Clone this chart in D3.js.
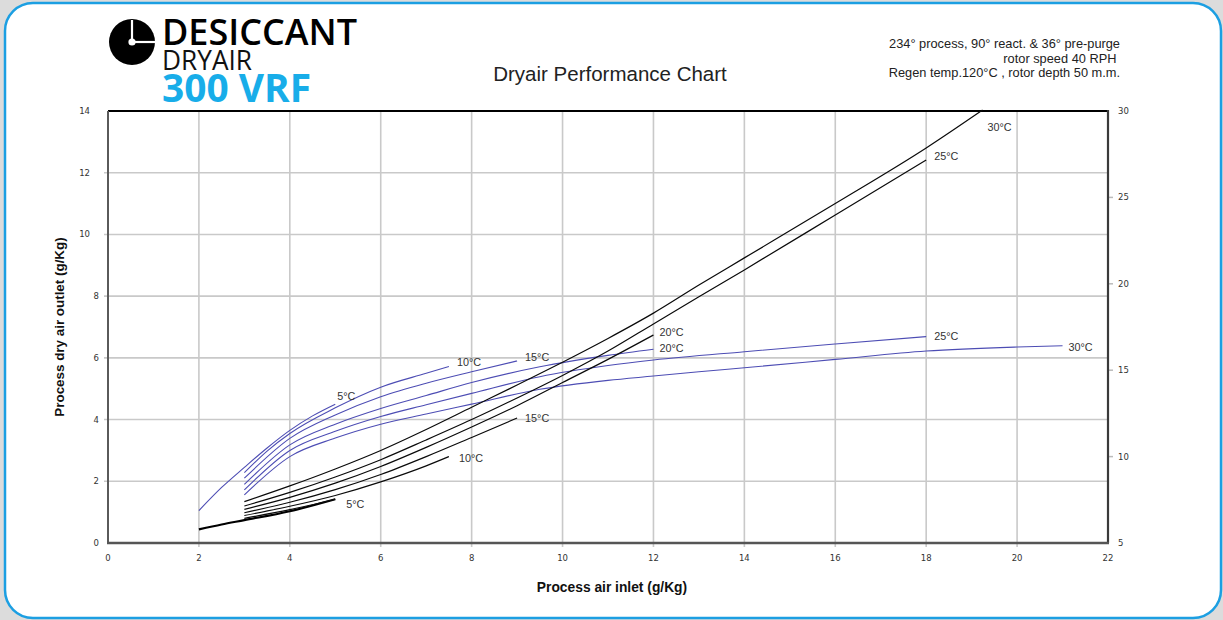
<!DOCTYPE html>
<html>
<head>
<meta charset="utf-8">
<script src="https://cdn.jsdelivr.net/npm/d3@7"></script>
<style>
  html, body { margin: 0; padding: 0; background: #dcdcdc; }
  svg { display: block; }
</style>
</head>
<body>
<svg id="chart" width="1223" height="620"></svg>
<script>
// ---------- DATA ----------
const xTicks = [0, 2, 4, 6, 8, 10, 12, 14, 16, 18, 20, 22];
const yTicks = [0, 2, 4, 6, 8, 10, 12, 14];
const yRightTicks = [5, 10, 15, 20, 25, 30];
const tempNames = ["5°C", "10°C", "15°C", "20°C", "25°C", "30°C"];

// blue family
const blue5  = [[2,1.05],[2.5,1.8],[3,2.45],[3.5,3.08],[4,3.65],[4.5,4.12],[5,4.5]];
const blue10 = [[3,2.28],[3.5,2.98],[4,3.55],[5,4.38],[6,5.05],[7,5.5],[7.5,5.72]];
const blue15 = [[3,2.1],[4,3.39],[5,4.15],[6,4.74],[7,5.18],[8,5.55],[9,5.9]];
const blue20 = [[3,1.9],[4,3.18],[5,3.85],[6,4.36],[7,4.78],[8,5.2],[9.5,5.71],[11,6.08],[12,6.28]];
const blue25 = [[3,1.72],[4,3.0],[5,3.62],[6,4.1],[7,4.48],[8,4.85],[9.5,5.39],[11,5.75],[12,5.93],[14,6.2],[16,6.45],[18,6.69]];
const blue30 = [[3,1.56],[4,2.8],[5,3.4],[6,3.85],[7,4.18],[8,4.5],[9.5,4.98],[11,5.27],[12,5.41],[13,5.55],[14,5.68],[16,5.95],[18,6.22],[20,6.35],[21,6.39]];

// black family
const black5a = [[2,0.44],[2.5,0.6],[3,0.74],[4,1.03],[5,1.42]];
const black5b = [[3,0.8],[4,1.08],[5,1.42]];
const black10 = [[3,0.89],[4,1.19],[5,1.54],[6,1.98],[7,2.5],[7.5,2.8]];
const black15 = [[3,0.98],[4,1.32],[5,1.73],[6,2.22],[7,2.8],[8,3.42],[9,4.05]];
const black20 = [[3,1.09],[4,1.48],[5,1.94],[6,2.48],[7,3.1],[8,3.76],[9,4.45],[10,5.2],[11,5.95],[12,6.74]];
const black25 = [[3,1.2],[4,1.64],[5,2.14],[6,2.7],[7,3.34],[8,4.0],[9,4.7],[10,5.43],[11,6.22],[12,7.1],[13,7.98],[14,8.85],[16,10.63],[18,12.41]];
const black30 = [[3,1.34],[4,1.85],[5,2.4],[6,3.0],[7,3.68],[8,4.4],[9,5.12],[10,5.86],[11,6.63],[12,7.45],[13,8.36],[14,9.24],[16,11.0],[18,12.8],[19.24,14.03]];

const blueSeries = [blue5, blue10, blue15, blue20, blue25, blue30];
const blackSeries = [black5b, black10, black15, black20, black25, black30];

const noteLines = ["234° process, 90° react. & 36° pre-purge", "rotor speed 40 RPH ", "Regen temp.120°C , rotor depth 50 m.m."];

// ---------- DRAWING ----------
const svg = d3.select("#chart");

// frame
svg.append("rect").attr("x", 5).attr("y", 3).attr("width", 1216).attr("height", 615)
  .attr("rx", 28).attr("ry", 28).attr("fill", "#fff")
  .attr("stroke", "#1c9fe2").attr("stroke-width", 2.5);

const x = d3.scaleLinear().domain([0, 22]).range([108, 1108]);
const y = d3.scaleLinear().domain([0, 14]).range([543, 111]);
const yR = d3.scaleLinear().domain([5, 30]).range([543, 111]);

const font = "'Liberation Sans', Arial, Helvetica, sans-serif";
const tickFont = "'DejaVu Sans', Verdana, sans-serif";

// grid
const grid = svg.append("g");
grid.selectAll("line.v").data(xTicks.slice(1, -1)).join("line")
  .attr("x1", d => x(d)).attr("x2", d => x(d))
  .attr("y1", y(14)).attr("y2", y(0) + 4)
  .attr("stroke", "#c9c9c9").attr("stroke-width", 1.6);
grid.selectAll("line.h").data(yTicks.slice(1, -1)).join("line")
  .attr("y1", d => y(d)).attr("y2", d => y(d))
  .attr("x1", x(0) - 4).attr("x2", x(22))
  .attr("stroke", "#c9c9c9").attr("stroke-width", 1.6);

// right ticks
svg.append("g").selectAll("line").data(yRightTicks.slice(1, -1)).join("line")
  .attr("x1", x(22)).attr("x2", x(22) + 5)
  .attr("y1", d => yR(d)).attr("y2", d => yR(d))
  .attr("stroke", "#bbb").attr("stroke-width", 1.5);

// axis frame lines
svg.append("line").attr("x1", x(0)).attr("x2", x(22)).attr("y1", y(14)).attr("y2", y(14))
  .attr("stroke", "#000").attr("stroke-width", 2.2);
svg.append("line").attr("x1", x(0)).attr("x2", x(0)).attr("y1", y(14)).attr("y2", y(0))
  .attr("stroke", "#5a5a5a").attr("stroke-width", 2);
svg.append("line").attr("x1", x(22)).attr("x2", x(22)).attr("y1", y(14) - 1).attr("y2", y(0))
  .attr("stroke", "#3a3a3a").attr("stroke-width", 2.2);
svg.append("line").attr("x1", x(0) - 1).attr("x2", x(22) + 1).attr("y1", y(0)).attr("y2", y(0))
  .attr("stroke", "#555").attr("stroke-width", 2.6);

// tick labels
svg.append("g").selectAll("text").data(yTicks).join("text")
  .attr("x", d => String(d).length > 1 ? 90 : 99)
  .attr("y", d => y(d) + 3)
  .attr("text-anchor", "end")
  .attr("font-family", tickFont).attr("font-size", 8.5).attr("fill", "#333")
  .text(d => d);
svg.append("g").selectAll("text").data(xTicks).join("text")
  .attr("x", d => x(d)).attr("y", 561)
  .attr("text-anchor", "middle")
  .attr("font-family", tickFont).attr("font-size", 8.5).attr("fill", "#333")
  .text(d => d);
svg.append("g").selectAll("text").data(yRightTicks).join("text")
  .attr("x", 1118).attr("y", d => yR(d) + 3)
  .attr("text-anchor", "start")
  .attr("font-family", tickFont).attr("font-size", 8.5).attr("fill", "#333")
  .text(d => d);

// axis titles
svg.append("text").attr("x", 612).attr("y", 592).attr("text-anchor", "middle")
  .attr("font-family", font).attr("font-weight", "bold").attr("font-size", 13.8).attr("fill", "#111")
  .text("Process air inlet (g/Kg)");
svg.append("text").attr("transform", "translate(64,327) rotate(-90)").attr("text-anchor", "middle")
  .attr("font-family", font).attr("font-weight", "bold").attr("font-size", 13.4).attr("fill", "#111")
  .text("Process dry air outlet (g/Kg)");

// curves
const line = d3.line().x(d => x(d[0])).y(d => y(d[1])).curve(d3.curveMonotoneX);
const plot = svg.append("g");
plot.selectAll("path.blue").data(blueSeries).join("path")
  .attr("d", line).attr("fill", "none").attr("stroke", "#4d4db4").attr("stroke-width", 1.1);
plot.append("path").datum(black5a).attr("d", line).attr("fill", "none")
  .attr("stroke", "#000").attr("stroke-width", 2.2);
plot.selectAll("path.black").data(blackSeries).join("path")
  .attr("d", line).attr("fill", "none").attr("stroke", "#0a0a0a").attr("stroke-width", 1.2);

// end labels (pixel offsets are styling)
const blueOffsets = [[2, -8], [8, -4], [8, -4], [6, -1], [8, -1], [6, 1]];
const blackOffsets = [[11, 5], [10, 1], [8, 0], [6, -3], [8, -4], [5, 17]];
function addLabels(series, offsets) {
  svg.append("g").selectAll("text").data(series).join("text")
    .attr("x", (d, i) => x(d[d.length - 1][0]) + offsets[i][0])
    .attr("y", (d, i) => y(d[d.length - 1][1]) + offsets[i][1] + 4)
    .attr("font-family", font).attr("font-size", 10.8).attr("fill", "#333")
    .text((d, i) => tempNames[i]);
}
addLabels(blueSeries, blueOffsets);
addLabels(blackSeries, blackOffsets);

// title
svg.append("text").attr("x", 610).attr("y", 81).attr("text-anchor", "middle")
  .attr("font-family", font).attr("font-size", 20.5).attr("fill", "#222")
  .text("Dryair Performance Chart");

// notes top right
svg.append("g").selectAll("text").data(noteLines).join("text")
  .attr("x", 1120).attr("y", (d, i) => 48 + i * 14.5)
  .attr("text-anchor", "end").style("white-space", "pre")
  .attr("font-family", font).attr("font-size", 12.8).attr("fill", "#222")
  .text(d => d);

// logo
const logo = svg.append("g");
logo.append("circle").attr("cx", 132).attr("cy", 42).attr("r", 23).attr("fill", "#000");
logo.append("line").attr("x1", 132).attr("x2", 132).attr("y1", 20).attr("y2", 42)
  .attr("stroke", "#fff").attr("stroke-width", 2.2);
logo.append("line").attr("x1", 132).attr("x2", 155).attr("y1", 42).attr("y2", 42)
  .attr("stroke", "#fff").attr("stroke-width", 2.2);
logo.append("circle").attr("cx", 132).attr("cy", 42).attr("r", 3.6).attr("fill", "#fff");
logo.append("text").attr("x", 162).attr("y", 45)
  .attr("font-family", "'Open Sans', sans-serif").attr("font-weight", 600).attr("font-size", 36)
  .attr("textLength", 195).attr("lengthAdjust", "spacingAndGlyphs").attr("fill", "#000")
  .text("DESICCANT");
logo.append("text").attr("x", 162).attr("y", 70)
  .attr("font-family", "'Open Sans', sans-serif").attr("font-weight", 400).attr("font-size", 28)
  .attr("textLength", 90).attr("lengthAdjust", "spacingAndGlyphs").attr("fill", "#111")
  .text("DRYAIR");
logo.append("text").attr("x", 162).attr("y", 102)
  .attr("font-family", "'Open Sans', sans-serif").attr("font-weight", 700).attr("font-size", 40)
  .attr("textLength", 149).attr("lengthAdjust", "spacingAndGlyphs").attr("fill", "#18ade9")
  .text("300 VRF");
</script>
</body>
</html>
